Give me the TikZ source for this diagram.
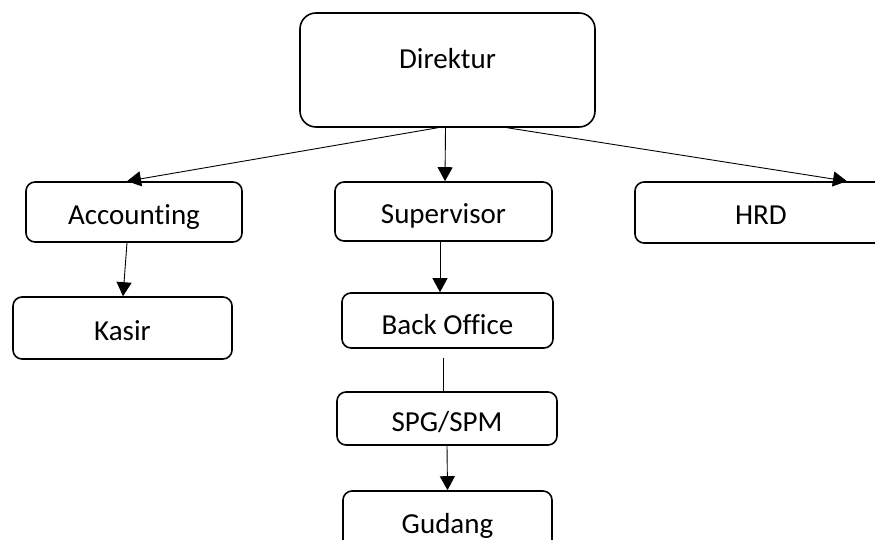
\documentclass[tikz,border=0pt]{standalone}
\usepackage{fontspec}
\setmainfont{Carlito}[Ligatures=CommonOff]
\usetikzlibrary{arrows.meta, positioning}

\tikzset{
  unit/.style={draw, rounded corners=9pt, line width=1.6pt, inner sep=0pt,
    font=\fontsize{29}{34}\selectfont, text height=24pt, text depth=0pt},
  link/.style={line width=0.9pt, -{Triangle[width=15pt,length=14pt]}},
  plain/.style={line width=0.9pt}
}

\begin{document}
\begin{tikzpicture}[x=1pt, y=-1pt]
\clip (0,0) rectangle (875,540);

\node [unit, rounded corners=16pt, minimum width=295, minimum height=114, text height=18pt, text depth=20pt] (direktur) at (447.5,70) {Direktur};

\node [unit, minimum width=216, minimum height=60] (accounting) at (134,212) {Accounting};
\node [unit, minimum width=217, minimum height=59] (supervisor) at (443.5,211.5) {Supervisor};
\node [unit, minimum width=252, minimum height=61] (hrd) at (761,212.5) {HRD};

\node [unit, minimum width=219, minimum height=62] (kasir) at (122.5,328) {Kasir};
\node [unit, minimum width=211, minimum height=55, text height=27pt] (backoffice) at (447.5,320.5) {Back Office};
\node [unit, minimum width=220, minimum height=53, text height=26pt] (spg) at (447,418.5) {SPG/SPM};
\node [unit, minimum width=209, minimum height=58, text height=26pt] (gudang) at (447.5,520) {Gudang};

\draw [link] ([xshift=-10pt]direktur.south) -- ([xshift=-7pt]accounting.north);
\draw [link] ([xshift=-2pt]direktur.south) -- ([xshift=1.5pt]supervisor.north);
\draw [link] ([xshift=60pt]direktur.south) -- ([xshift=86pt]hrd.north);

\draw [link] ([xshift=-7pt]accounting.south) -- ([xshift=0.5pt]kasir.north);
\draw [link] ([xshift=-3.5pt]supervisor.south) -- ([xshift=-7.5pt]backoffice.north);
\draw [plain] ([xshift=-4.5pt,yshift=-9pt]backoffice.south) -- ([xshift=-4pt]spg.north);
\draw [link] (spg.south) -- (gudang.north);
\end{tikzpicture}
\end{document}
